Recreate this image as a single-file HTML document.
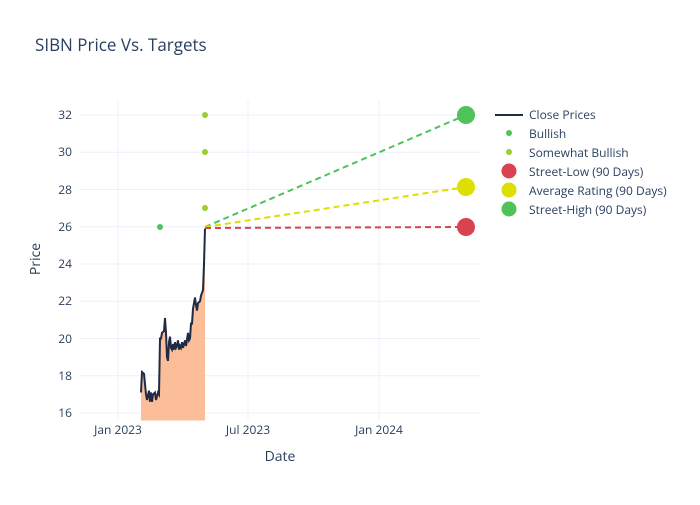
<!DOCTYPE html>
<html><head><style>
body{margin:0;background:#fff;}
svg text{font-family:"Open Sans","Liberation Sans",sans-serif;fill:#2a3f5f;}
</style></head><body>
<svg width="700" height="500" xmlns="http://www.w3.org/2000/svg">
<rect width="700" height="500" fill="#fff"/>
<text x="35" y="51" font-size="17">SIBN Price Vs. Targets</text>
<g stroke="#ebf0f8" stroke-width="1">
<line x1="80" x2="480" y1="413" y2="413"/><line x1="80" x2="480" y1="375.75" y2="375.75"/>
<line x1="80" x2="480" y1="338.5" y2="338.5"/><line x1="80" x2="480" y1="301.25" y2="301.25"/>
<line x1="80" x2="480" y1="264" y2="264"/><line x1="80" x2="480" y1="226.75" y2="226.75"/>
<line x1="80" x2="480" y1="189.5" y2="189.5"/><line x1="80" x2="480" y1="152.25" y2="152.25"/>
<line x1="80" x2="480" y1="115" y2="115"/>
<line x1="118" x2="118" y1="100" y2="420"/><line x1="248" x2="248" y1="100" y2="420"/><line x1="379" x2="379" y1="100" y2="420"/>
</g>
<g font-size="12" text-anchor="end">
<text x="72" y="417">16</text><text x="72" y="380">18</text><text x="72" y="343">20</text>
<text x="72" y="305">22</text><text x="72" y="268">24</text><text x="72" y="231">26</text>
<text x="72" y="194">28</text><text x="72" y="156">30</text><text x="72" y="119">32</text>
</g>
<g font-size="12" text-anchor="middle">
<text x="118" y="434">Jan 2023</text><text x="248" y="434">Jul 2023</text><text x="379" y="434">Jan 2024</text>
</g>
<text x="280" y="461" font-size="14" text-anchor="middle">Date</text>
<text x="40" y="259" font-size="14" text-anchor="middle" transform="rotate(-90 40 259)">Price</text>
<g transform="translate(0,711) scale(1,-18.625)">
<path d="M141,15.6 L141,17.1 142,18.2 144,18.1 146,17.0 147,16.7 149,17.2 150,16.6 151,17.1 152,16.6 153,17.0 155,17.1 156,16.7 158,17.1 159,17.0 160,20.0 161,20.0 162,20.3 164,20.4 165,21.1 166,20.3 167,19.0 168,18.8 169,19.8 170,20.1 171,19.5 172,19.4 173,19.7 174,19.4 175,19.8 176,19.5 177,19.6 178,19.9 179,19.4 180,19.6 181,19.5 182,19.8 183,19.5 184,19.7 185,19.9 186,19.6 188,20.3 189,19.9 190,20.0 191,20.8 192,20.8 193,21.6 195,22.2 196,21.8 197,21.5 198,21.9 200,22.0 201,22.3 203,22.6 204,24.0 205,25.9 L205,15.6 Z" fill="#fbbe98" stroke="none"/>
<path d="M141,17.1 142,18.2 144,18.1 146,17.0 147,16.7 149,17.2 150,16.6 151,17.1 152,16.6 153,17.0 155,17.1 156,16.7 158,17.1 159,17.0 160,20.0 161,20.0 162,20.3 164,20.4 165,21.1 166,20.3 167,19.0 168,18.8 169,19.8 170,20.1 171,19.5 172,19.4 173,19.7 174,19.4 175,19.8 176,19.5 177,19.6 178,19.9 179,19.4 180,19.6 181,19.5 182,19.8 183,19.5 184,19.7 185,19.9 186,19.6 188,20.3 189,19.9 190,20.0 191,20.8 192,20.8 193,21.6 195,22.2 196,21.8 197,21.5 198,21.9 200,22.0 201,22.3 203,22.6 204,24.0 205,25.9" fill="none" stroke="#1f2a44" stroke-width="2" vector-effect="non-scaling-stroke"/>
</g>
<g stroke-width="2" stroke-dasharray="6,4">
<line x1="205" y1="227" x2="466" y2="115" stroke="#4fc25a"/>
<line x1="205" y1="227" x2="466" y2="187" stroke="#dede00"/>
<line x1="205" y1="228" x2="466" y2="227" stroke="#d9434f"/>
</g>
<circle cx="160" cy="227" r="3" fill="#4fc25a"/>
<circle cx="205" cy="115" r="3" fill="#9acd32"/>
<circle cx="205" cy="152" r="3" fill="#9acd32"/>
<circle cx="205" cy="208" r="3" fill="#9acd32"/>
<circle cx="466" cy="227" r="9" fill="#d9434f"/>
<circle cx="466" cy="187" r="9" fill="#dede00"/>
<circle cx="466" cy="115" r="9" fill="#4fc25a"/>
<g font-size="12">
<line x1="495" x2="523" y1="115" y2="115" stroke="#1f2a44" stroke-width="2"/>
<text x="529" y="119">Close Prices</text>
<circle cx="509" cy="133" r="3" fill="#4fc25a"/><text x="529" y="138">Bullish</text>
<circle cx="509" cy="152" r="3" fill="#9acd32"/><text x="529" y="157">Somewhat Bullish</text>
<circle cx="509" cy="171" r="7.5" fill="#d9434f"/><text x="529" y="176">Street-Low (90 Days)</text>
<circle cx="509" cy="190" r="7.5" fill="#dede00"/><text x="529" y="195">Average Rating (90 Days)</text>
<circle cx="509" cy="209" r="7.5" fill="#4fc25a"/><text x="529" y="214">Street-High (90 Days)</text>
</g>
</svg>
</body></html>
